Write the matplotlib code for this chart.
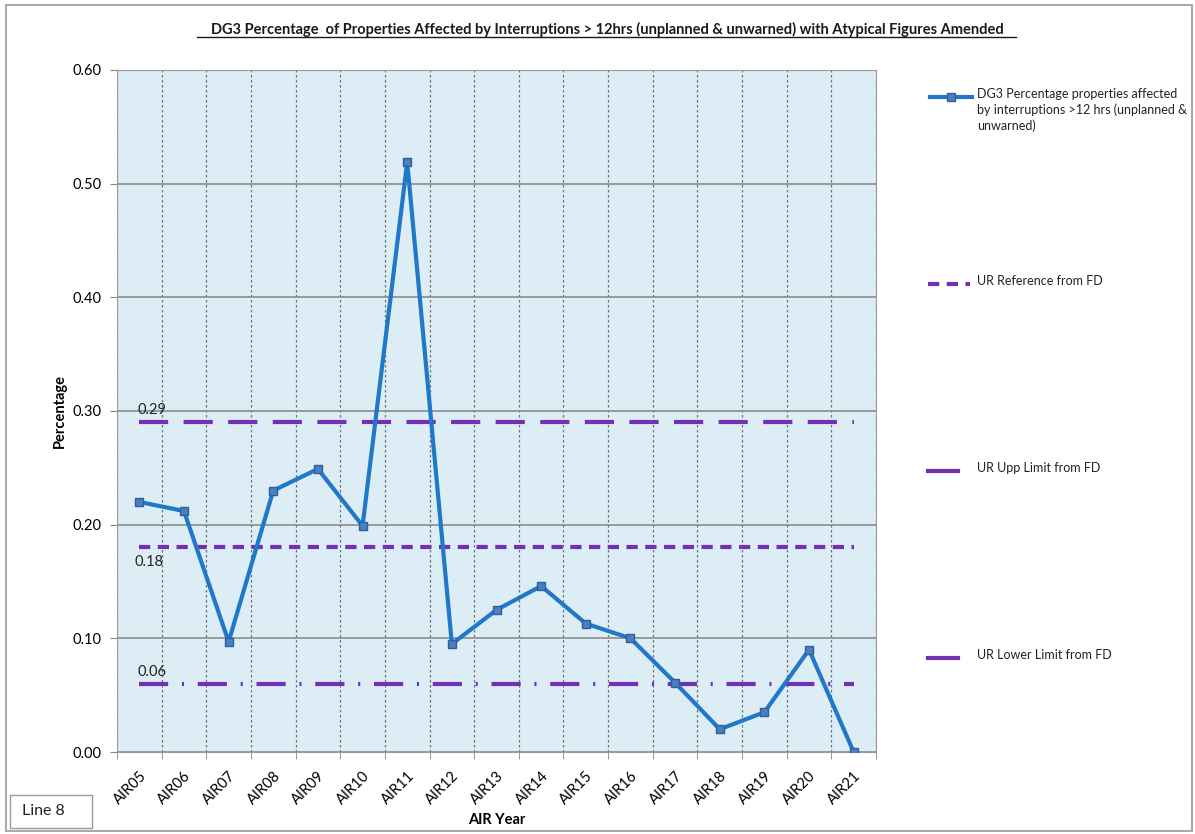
import numpy as np
import matplotlib.pyplot as plt
from matplotlib.lines import Line2D
from matplotlib.patches import Rectangle

plt.rcParams['font.family'] = ['Lato', 'DejaVu Sans']

# data
anos = ['AIR05', 'AIR06', 'AIR07', 'AIR08', 'AIR09', 'AIR10', 'AIR11', 'AIR12', 'AIR13',
        'AIR14', 'AIR15', 'AIR16', 'AIR17', 'AIR18', 'AIR19', 'AIR20', 'AIR21']
dg3 = [0.220, 0.212, 0.097, 0.230, 0.249, 0.199, 0.519, 0.095, 0.125,
       0.146, 0.113, 0.100, 0.061, 0.020, 0.035, 0.090, 0.000]
ur_referencia = 0.18
ur_superior = 0.29
ur_inferior = 0.06

azul = '#1f78c8'
morado = '#7330b4'

fig = plt.figure(figsize=(11.95, 8.34), dpi=100)
ax = fig.add_axes([117 / 1195, 82 / 834, 759 / 1195, 682 / 834])
ax.set_facecolor('#dcedf5')

x = np.arange(len(anos))
ax.plot(x, dg3, color=azul, lw=3, marker='s', ms=6, mfc='#4a7fc0', mec='#2f5f9a', zorder=5)
ax.plot([x[0], x[-1]], [ur_superior] * 2, color=morado, lw=3, dashes=(7, 3.7), zorder=4)
ax.plot([x[0], x[-1]], [ur_referencia] * 2, color=morado, lw=3, dashes=(2.7, 1.8), zorder=4)
ax.plot([x[0], x[-1]], [ur_inferior] * 2, color=morado, lw=3, dashes=(7, 3.3, 0.5, 3.3), zorder=4)

ax.text(-0.05, ur_superior + 0.007, f'{ur_superior:.2f}', fontsize=10.5, color='#222222')
ax.text(-0.1, ur_referencia - 0.007, f'{ur_referencia:.2f}', fontsize=10.5, color='#222222', va='top')
ax.text(-0.05, ur_inferior + 0.007, f'{ur_inferior:.2f}', fontsize=10.5, color='#222222')

ax.set_xlim(-0.5, len(anos) - 0.5)
ax.set_ylim(0, 0.6)
ax.set_yticks(np.arange(0, 0.61, 0.1))
ax.set_yticklabels([f'{v:.2f}' for v in np.arange(0, 0.61, 0.1)], fontsize=10.5)
ax.set_xticks(x)
ax.set_xticklabels(anos, rotation=45, ha='right', rotation_mode='anchor', fontsize=10.5)
ax.set_xticks(np.arange(-0.5, len(anos)), minor=True)
ax.tick_params(axis='x', which='major', length=0, pad=12)
ax.tick_params(axis='x', which='minor', length=5, color='#888888')
ax.tick_params(axis='y', length=5, color='#888888', pad=6)

ax.grid(axis='y', color='#8c8c8c', lw=1.2)
ax.grid(axis='x', which='minor', color='#707070', lw=0.9, ls=(0, (2, 2)))
ax.set_axisbelow(True)
for lado in ax.spines.values():
    lado.set_color('#9a9a9a')

ax.set_xlabel('AIR Year', fontsize=10.5, fontweight='bold', labelpad=4)
ax.set_ylabel('Percentage', fontsize=10.5, fontweight='bold', labelpad=4)

fig.text(607 / 1195, 1 - 29 / 834,
         'DG3 Percentage  of Properties Affected by Interruptions > 12hrs (unplanned & unwarned) with Atypical Figures Amended',
         ha='center', va='center', fontsize=10.5, fontweight='bold', color='#1a1a1a')
# subrayado del titulo
fig.add_artist(Line2D([197 / 1195, 1016 / 1195], [1 - 37 / 834] * 2, color='#1a1a1a', lw=1))

# leyenda manual
def px(xp, yp):
    return xp / 1195, 1 - yp / 834

leyenda = [
    (97, dict(color=azul, lw=3, marker='s', ms=6, mfc='#4a7fc0', mec='#2f5f9a', markevery=[1]),
     930, 972, 'DG3 Percentage properties affected\nby interruptions >12 hrs (unplanned &\nunwarned)'),
    (284, dict(color=morado, lw=3, dashes=(2.7, 1.8)), 928, 970, 'UR Reference from FD'),
    (471, dict(color=morado, lw=3), 928, 958, 'UR Upp Limit from FD'),
    (658, dict(color=morado, lw=3), 928, 958, 'UR Lower Limit from FD'),
]
for yp, estilo, x0, x1, etiqueta in leyenda:
    a = px(x0, yp)
    b = px(x1, yp)
    xs = [a[0], (a[0] + b[0]) / 2, b[0]]
    fig.add_artist(Line2D(xs, [a[1]] * 3, transform=fig.transFigure, **estilo))
    tx, ty = px(977, yp - 9)
    fig.text(tx, ty, etiqueta, fontsize=9, va='top', ha='left', color='#222222', linespacing=1.35)

# caja "Line 8" y borde exterior
fig.add_artist(Rectangle(px(10, 828), 82 / 1195, 33 / 834, transform=fig.transFigure,
                         fill=False, ec='#9a9a9a', lw=1))
fig.text(*px(22, 811), 'Line 8', fontsize=11.5, va='center', color='#222222')
fig.add_artist(Rectangle(px(6, 831), 1186 / 1195, 826 / 834, transform=fig.transFigure,
                         fill=False, ec='#aaaaaa', lw=1.5))

fig.savefig('out.png', dpi=100)
